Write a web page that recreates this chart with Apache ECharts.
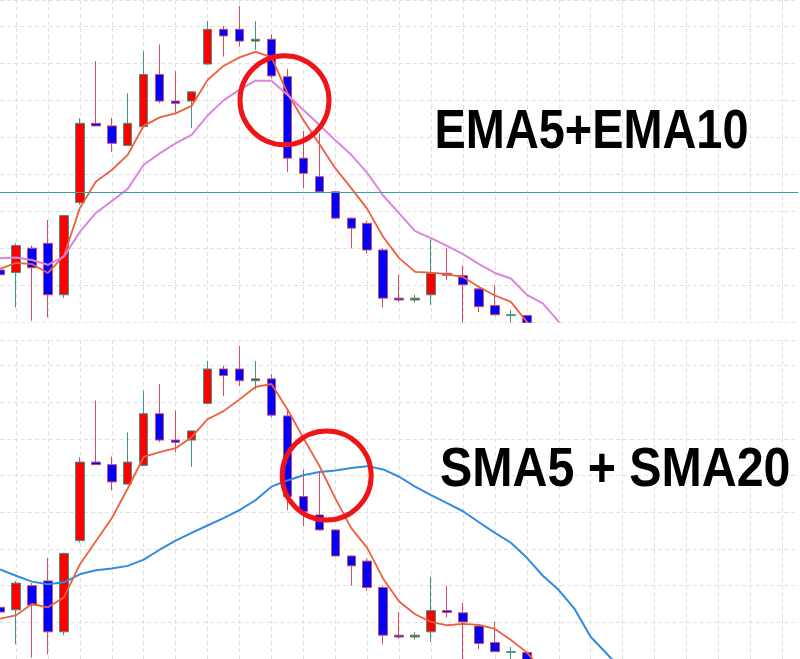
<!DOCTYPE html>
<html><head><meta charset="utf-8">
<script src="https://cdn.jsdelivr.net/npm/echarts/dist/echarts.min.js"></script>
<style>html,body{margin:0;padding:0;background:#fff}#c{width:800px;height:659px}</style>
</head><body><div id="c"></div>
<script>
const categories = ['1','2','3','4','5','6','7','8','9','10','11','12','13','14','15','16','17','18','19','20','21','22','23','24','25','26','27','28','29','30','31','32','33','34','35','36','37','38','39','40','41','42','43','44','45','46','47','48','49','50','51'];
const opens  = [109.341,109.334,109.400,109.413,109.274,109.523,109.737,109.730,109.677,109.728,109.869,109.797,109.797,109.897,109.991,109.991,109.959,109.964,109.863,109.643,109.593,109.552,109.481,109.467,109.395,109.265,109.260,109.274,109.332,109.326,109.290,109.245,109.218,109.218];
const closes = [109.328,109.407,109.347,109.274,109.488,109.737,109.730,109.683,109.737,109.869,109.797,109.791,109.822,109.991,109.973,109.959,109.964,109.865,109.643,109.602,109.552,109.481,109.454,109.395,109.265,109.260,109.265,109.332,109.327,109.301,109.242,109.220,109.220,109.160];
const lows   = [109.314,109.240,109.204,109.213,109.265,109.517,109.729,109.660,109.676,109.727,109.791,109.764,109.724,109.896,109.917,109.944,109.935,109.859,109.606,109.562,109.551,109.480,109.400,109.386,109.240,109.255,109.253,109.247,109.314,109.166,109.227,109.219,109.198,109.155];
const highs  = [109.355,109.413,109.407,109.476,109.490,109.751,109.905,109.752,109.818,109.932,109.950,109.878,109.823,110.013,110.000,110.054,110.013,109.977,109.884,109.716,109.710,109.553,109.482,109.474,109.400,109.328,109.274,109.424,109.400,109.353,109.291,109.301,109.233,109.219];
const ema5  = [109.344,109.360,109.357,109.333,109.379,109.508,109.579,109.611,109.652,109.730,109.753,109.764,109.784,109.854,109.892,109.915,109.930,109.916,109.819,109.746,109.681,109.616,109.562,109.506,109.430,109.373,109.336,109.334,109.330,109.322,109.295,109.272,109.255,109.201,109.139];
const ema10 = [109.373,109.375,109.368,109.355,109.377,109.444,109.495,109.527,109.560,109.625,109.656,109.683,109.706,109.758,109.799,109.828,109.852,109.852,109.814,109.773,109.733,109.691,109.652,109.603,109.542,109.494,109.446,109.427,109.406,109.384,109.357,109.333,109.318,109.274,109.251,109.201,109.152];
const sma5  = [109.310,109.319,109.350,109.341,109.368,109.458,109.521,109.584,109.665,109.751,109.764,109.775,109.805,109.854,109.876,109.908,109.942,109.950,109.881,109.803,109.727,109.638,109.557,109.503,109.419,109.357,109.322,109.301,109.292,109.296,109.293,109.282,109.252,109.218,109.166];
const sma20 = [109.444,109.427,109.411,109.404,109.409,109.431,109.442,109.447,109.454,109.471,109.498,109.523,109.544,109.564,109.584,109.606,109.633,109.670,109.687,109.701,109.710,109.714,109.721,109.726,109.717,109.697,109.670,109.647,109.625,109.603,109.573,109.544,109.517,109.476,109.427,109.388,109.336,109.260,109.215,109.166];
const levelLine = 109.552;
const yMin = 109.2, yMax = 110.07, yStep = 0.1;
const titleTop = 'EMA5+EMA10';
const titleBottom = 'SMA5 + SMA20';

const candleData = opens.map((o, i) => [o, closes[i], lows[i], highs[i]]);
const gridLine = { show: true, lineStyle: { color: '#e0e0e0', width: 1, type: [4, 3] } };
function xAx(g) {
  return { type: 'category', gridIndex: g, data: categories, boundaryGap: false,
    axisLine: {show: false}, axisTick: {show: false}, axisLabel: {show: false},
    splitLine: Object.assign({ interval: (i) => i % 2 === 1 }, gridLine) };
}
function yAx(g) {
  return { type: 'value', gridIndex: g, min: yMin, max: yMax, interval: yStep, scale: true,
    axisLine: {show: false}, axisTick: {show: false}, axisLabel: {show: false}, splitLine: gridLine };
}
const candleStyle = { color: '#ff0000', color0: '#0000ff', borderColor: '#3f9585', borderColor0: '#cc4f66', borderWidth: 1 };
function lineS(g, data, color, width) {
  return { type: 'line', xAxisIndex: g, yAxisIndex: g, data: data, showSymbol: false, symbol: 'none',
    lineStyle: { color: color, width: width }, clip: true, z: 3, silent: true };
}
const chart = echarts.init(document.getElementById('c'), null, { renderer: 'canvas' });
chart.setOption({
  animation: false,
  backgroundColor: '#ffffff',
  grid: [
    { left: -1.7, width: 800, top: 0, height: 322.2 },
    { left: -1.7, width: 800, top: 340, height: 322.2 }
  ],
  xAxis: [xAx(0), xAx(1)],
  yAxis: [yAx(0), yAx(1)],
  series: [
    { type: 'candlestick', xAxisIndex: 0, yAxisIndex: 0, data: candleData, barWidth: 9, itemStyle: candleStyle, clip: true,
      markLine: { silent: true, symbol: 'none', label: {show: false}, lineStyle: { color: '#3c9ea0', width: 1, type: 'solid' }, data: [{ yAxis: levelLine }] } },
    lineS(0, ema5, '#ee5f3c', 1.8),
    lineS(0, ema10, '#dd85dd', 2),
    { type: 'candlestick', xAxisIndex: 1, yAxisIndex: 1, data: candleData, barWidth: 9, itemStyle: candleStyle, clip: true },
    lineS(1, sma20, '#2f8ce0', 2),
    lineS(1, sma5, '#ee5f3c', 1.8)
  ],
  graphic: [
    { type: 'rect', z: 50, silent: true, shape: { x: 0, y: 322.8, width: 800, height: 17.2 }, style: { fill: '#ffffff' } },
    { type: 'circle', z: 100, shape: { cx: 284.5, cy: 100.3, r: 44.5 }, style: { fill: 'none', stroke: '#f01418', lineWidth: 5 } },
    { type: 'circle', z: 100, shape: { cx: 326.7, cy: 475.5, r: 44.5 }, style: { fill: 'none', stroke: '#f01418', lineWidth: 5 } },
    { type: 'text', z: 100, x: 434.6, y: 132.7, scaleX: 0.837, style: { text: titleTop, fill: '#000', font: 'bold 56px "Liberation Sans", Arial, sans-serif', align: 'left', verticalAlign: 'middle' } },
    { type: 'text', z: 100, x: 440, y: 470.7, scaleX: 0.863, style: { text: titleBottom, fill: '#000', font: 'bold 56px "Liberation Sans", Arial, sans-serif', align: 'left', verticalAlign: 'middle' } }
  ]
});
</script>
</body></html>
